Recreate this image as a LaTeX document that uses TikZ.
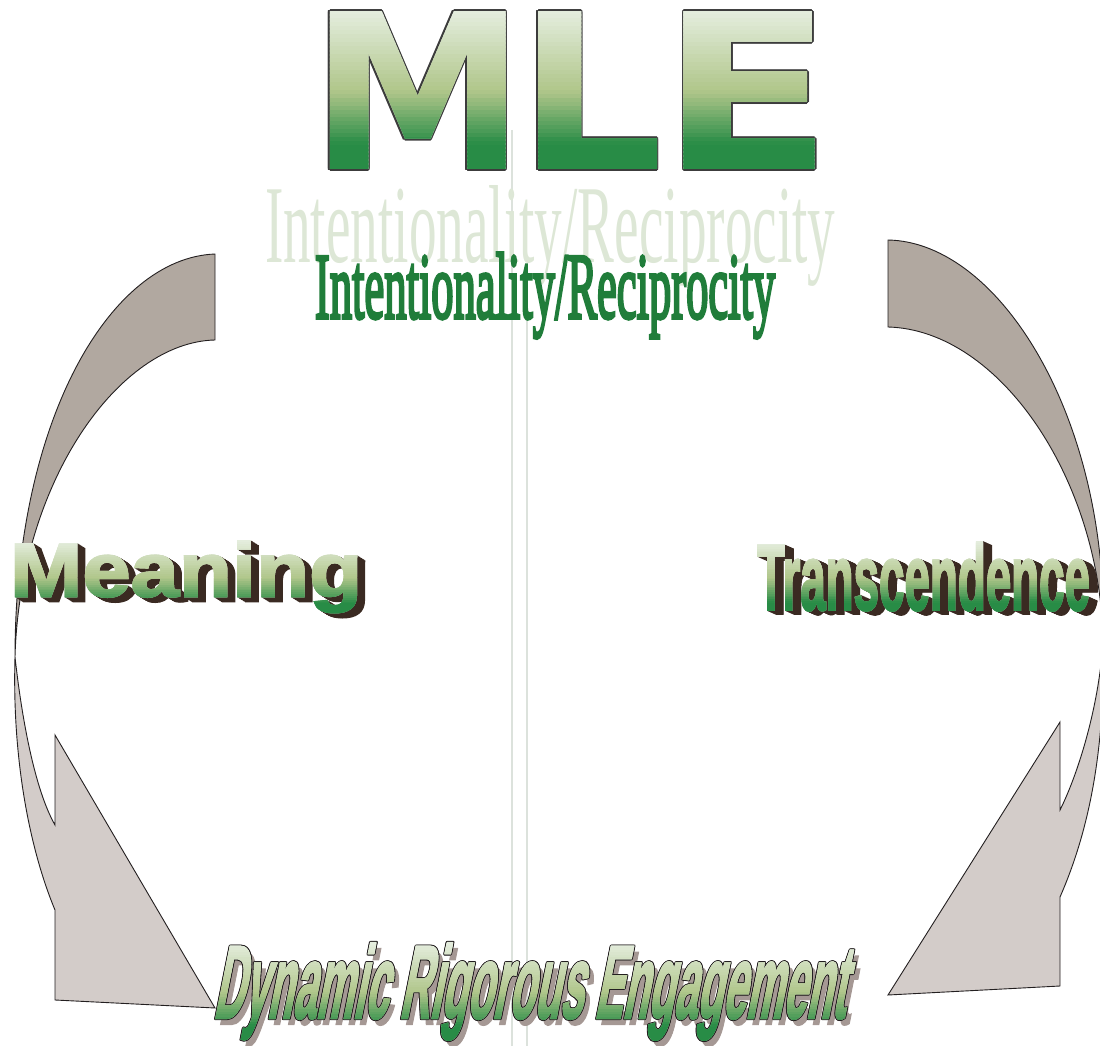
\documentclass[tikz,border=0pt]{standalone}
\usepackage{fontspec}
\usepackage{graphicx}
\setmainfont{Liberation Serif}
\newfontfamily\titlefont{DejaVu Sans}
\newfontfamily\heavyfont{Liberation Sans}[BoldFeatures={FakeBold=2}]
\newfontfamily\firmserif{Liberation Serif}[FakeBold=4]

\definecolor{gTop}{RGB}{228,237,221}
\definecolor{gMid}{RGB}{176,198,138}
\definecolor{gLow}{RGB}{40,140,70}
\definecolor{edgec}{RGB}{35,31,32}
\definecolor{mleedge}{RGB}{60,60,60}
\definecolor{bandback}{RGB}{177,168,160}
\definecolor{bandfront}{RGB}{211,204,201}
\definecolor{extrude}{RGB}{58,42,34}
\definecolor{dropc}{RGB}{165,152,148}
\definecolor{ghost}{RGB}{221,231,214}
\definecolor{leaf}{RGB}{32,125,58}
\definecolor{guide}{RGB}{220,226,220}

% gradient-filled text: #1 style, #2 position, #3 content, #4 top y, #5 bottom y, #6 name
\newcommand\gradstrips[6]{%
  \node[#1, text=gTop] (#6) at (#2) {#3};
  \foreach \k in {0,...,39}{%
    \pgfmathsetmacro\ya{#4+(#5-#4)*\k/40}%
    \pgfmathsetmacro\yb{\k==39 ? (#5+80) : (#4+(#5-#4)*(\k+1)/40+0.8)}%
    \pgfmathtruncatemacro\gt{100*\k/39}%
    \ifnum\gt<50 \pgfmathtruncatemacro\pp{2*\gt}\colorlet{stripc}{gMid!\pp!gTop}%
    \else\ifnum\gt<85 \pgfmathtruncatemacro\pp{(\gt-50)*100/35}\colorlet{stripc}{gLow!\pp!gMid}%
    \else\colorlet{stripc}{gLow}\fi\fi
    \begin{scope}
      \clip (-10,\ya) rectangle (1110,\yb);
      \node[#1, text=stripc] at (#2) {#3};
    \end{scope}
  }%
}
% thin contour around a text: #1 style, #2 position, #3 content, #4 width, #5 colour
\newcommand\contour[5]{%
  \foreach \dx/\dy in {1/0,-1/0,0/1,0/-1,0.7/0.7,0.7/-0.7,-0.7/0.7,-0.7/-0.7}{%
    \node[#1, text=#5, xshift={#4*\dx*1pt}, yshift={#4*\dy*1pt}] at (#2) {#3};
  }%
}
% solid extrusion behind a text: #1 style, #2 position, #3 content, #4 dx, #5 dy, #6 colour
\newcommand\extrusion[6]{%
  \foreach \s in {1,...,12}{%
    \node[#1, text=#6, xshift={#4*\s/12*1pt}, yshift={-#5*\s/12*1pt}] at (#2) {#3};
  }%
}

\begin{document}
\begin{tikzpicture}[x=1pt,y=-1pt,
  every node/.style={inner sep=0pt,outer sep=0pt},
  band/.style={draw=edgec,line width=0.9pt,line join=miter},
  guideline/.style={draw=guide,line width=1.4pt},
  mlestyle/.style={anchor=base west,font=\titlefont\bfseries\fontsize{216.7}{220}\selectfont},
  meanstyle/.style={anchor=base west,font=\heavyfont\bfseries},
  transstyle/.style={anchor=base west,font=\heavyfont\bfseries},
  dynstyle/.style={anchor=base west,font=\heavyfont\bfseries,xslant=0.2},
  irstyle/.style={anchor=base west,font=\rmfamily},
  irfirm/.style={anchor=base west,font=\firmserif}]

\useasboundingbox (0,0) rectangle (1100,1046);

% faint vertical guides
\draw[guideline] (512,130) -- (512,1046);
\draw[guideline] (527,300) -- (527,1046);

% left ribbon arrow: back face, then the twisted front face with its head
\path[band,fill=bandback] (215,254) .. controls (110,258) and (15,420) .. (15,657)
  .. controls (20,480) and (120,342) .. (215,340) -- cycle;
\path[band,fill=bandfront] (15,657) .. controls (22,720) and (35,790) .. (55,825)
  -- (55,735) -- (215,1008) -- (55,1000) -- (55,910)
  .. controls (30,850) and (12,760) .. (15,657) -- cycle;

% right ribbon arrow
\path[band,fill=bandback] (888,240) .. controls (1000,242) and (1110,420) .. (1103,640)
  .. controls (1100,480) and (1000,330) .. (888,327) -- cycle;
\path[band,fill=bandfront] (1103,640) .. controls (1100,700) and (1080,770) .. (1060,810)
  -- (1060,722) -- (888,995) -- (1060,986) -- (1060,897)
  .. controls (1085,840) and (1106,760) .. (1103,640) -- cycle;

% title letters
\contour{mlestyle}{310,169.5}{M}{1.6}{mleedge}
\contour{mlestyle}{517,169.5}{\scalebox{1.06}[1]{L}}{1.6}{mleedge}
\contour{mlestyle}{660.6,169.5}{\scalebox{1.17}[1]{E}}{1.6}{mleedge}
\gradstrips{mlestyle}{310,169.5}{M}{11}{169.5}{mleM}
\gradstrips{mlestyle}{517,169.5}{\scalebox{1.06}[1]{L}}{11}{169.5}{mleL}
\gradstrips{mlestyle}{660.6,169.5}{\scalebox{1.17}[1]{E}}{11}{169.5}{mleE}

% subtitle and its pale echo
\node[irstyle,text=ghost] (irghost) at (265,262) {\resizebox{570pt}{77pt}{Intentionality/Reciprocity}};
\node[irfirm,text=leaf] (ir) at (315,318) {\resizebox{460pt}{65pt}{Intentionality/Reciprocity}};

% Meaning
\extrusion{meanstyle}{10,596.5}{\resizebox{352pt}{55.5pt}{Meaning}}{8}{5}{extrude}
\gradstrips{meanstyle}{10,596.5}{\resizebox{352pt}{55.5pt}{Meaning}}{541}{615}{meaning}

% Transcendence
\extrusion{transstyle}{757,610}{\resizebox{333pt}{68pt}{Transcendence}}{9}{4}{extrude}
\gradstrips{transstyle}{757,610}{\resizebox{333pt}{68pt}{Transcendence}}{542}{614}{transcendence}

% Dynamic Rigorous Engagement
\node[dynstyle,text=dropc,xshift=6pt,yshift=-6pt] at (213,1018) {\resizebox{632pt}{75pt}{Dynamic Rigorous Engagement}};
\contour{dynstyle}{213,1018}{\resizebox{632pt}{75pt}{Dynamic Rigorous Engagement}}{1.1}{edgec}
\gradstrips{dynstyle}{213,1018}{\resizebox{632pt}{75pt}{Dynamic Rigorous Engagement}}{943}{1042}{dre}

\end{tikzpicture}
\end{document}
